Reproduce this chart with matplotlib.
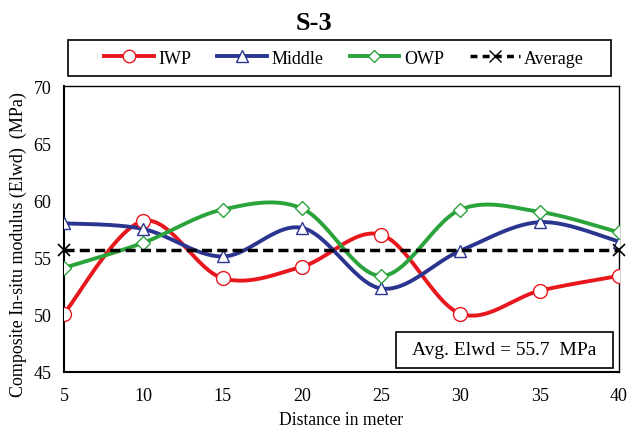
import numpy as np
import matplotlib
matplotlib.use("Agg")
import matplotlib.pyplot as plt
from matplotlib.lines import Line2D
from matplotlib.patches import Rectangle

plt.rcParams['font.family'] = ['Liberation Serif', 'DejaVu Serif']

distance = [5, 10, 15, 20, 25, 30, 35, 40]
iwp = [50.1, 58.2, 53.2, 54.2, 57.0, 50.1, 52.1, 53.4]
middle = [58.0, 57.5, 55.1, 57.6, 52.3, 55.6, 58.1, 56.4]
owp = [54.1, 56.3, 59.2, 59.3, 53.4, 59.2, 59.0, 57.2]
avg_x = [5, 40]
avg_y = [55.7, 55.7]
avg_text = "Avg. Elwd = 55.7  MPa"

RED = '#e8161d'
BLUE = '#2b3590'
GREEN = '#2ba33b'

W, H = 627, 431


def smooth(x, y, n=30):
    # Excel-style smoothed line (Catmull-Rom Bezier) through the data points
    x = np.asarray(x, float)
    y = np.asarray(y, float)
    px = np.concatenate([[x[0]], x, [x[-1]]])
    py = np.concatenate([[y[0]], y, [y[-1]]])
    xs, ys = [], []
    t = np.linspace(0, 1, n)
    for i in range(1, len(px) - 2):
        p0 = np.array([px[i - 1], py[i - 1]])
        p1 = np.array([px[i], py[i]])
        p2 = np.array([px[i + 1], py[i + 1]])
        p3 = np.array([px[i + 2], py[i + 2]])
        c1 = p1 + (p2 - p0) / 6
        c2 = p2 - (p3 - p1) / 6
        b = ((1 - t) ** 3)[:, None] * p1 + (3 * (1 - t) ** 2 * t)[:, None] * c1 \
            + (3 * (1 - t) * t ** 2)[:, None] * c2 + (t ** 3)[:, None] * p2
        xs.extend(b[:, 0]); ys.extend(b[:, 1])
    return xs, ys


fig = plt.figure(figsize=(W / 100, H / 100), dpi=100)
ax = fig.add_axes([64 / W, 1 - 373 / H, (619 - 64) / W, (373 - 87) / H])

lw = 2.8
for ys, c, m in [(iwp, RED, 'o'), (middle, BLUE, '^'), (owp, GREEN, 'D')]:
    sx, sy = smooth(distance, ys)
    ax.plot(sx, sy, color=c, lw=lw, zorder=3, solid_capstyle='round')
    ms = 10 if m == 'o' else (9 if m == '^' else 7.5)
    ax.plot(distance, ys, ls='none', marker=m, ms=ms, mfc='white', mec=c,
            mew=1.0, zorder=4)

ax.plot(avg_x, avg_y, color='black', lw=2.5, ls=(0, (2.9, 1.5)), marker='x',
        ms=8, mew=1.2, zorder=5, clip_on=False)

ax.set_xlim(5, 40)
ax.set_ylim(45, 70)
ax.set_xticks(distance)
ax.set_yticks([45, 50, 55, 60, 65, 70])
ax.tick_params(axis='both', which='both', length=0, labelsize=13)
ax.tick_params(axis='x', pad=10.5)
ax.tick_params(axis='y', pad=9)
for s in ax.spines.values():
    s.set_linewidth(1.0)
ax.spines['left'].set_linewidth(1.5)
ax.spines['bottom'].set_linewidth(1.5)

ax.set_xlabel('Distance in meter', fontsize=12.7, labelpad=5)
ax.set_ylabel('Composite In-situ modulus (Elwd)  (MPa)', fontsize=13)
ax.yaxis.set_label_coords((27 - 64) / 555, 0.448)

fig.text(0.5, 1 - 23 / H, 'S-3', ha='center', va='center', fontsize=19,
         fontweight='bold')

# annotation box with the average value
fig.patches.append(Rectangle((396 / W, 1 - 369 / H), (613 - 396) / W, 36 / H,
                             transform=fig.transFigure, fc='white',
                             ec='black', lw=1.2, zorder=6))
fig.text(504.5 / W, 1 - 351 / H, avg_text, ha='center', va='center',
         fontsize=14, zorder=7)

handles = [
    Line2D([], [], color=RED, lw=lw, marker='o', ms=9, mfc='white', mec=RED),
    Line2D([], [], color=BLUE, lw=lw, marker='^', ms=8, mfc='white', mec=BLUE),
    Line2D([], [], color=GREEN, lw=lw, marker='D', ms=6, mfc='white', mec=GREEN),
    Line2D([], [], color='black', lw=2.5, ls=(0, (2, 1.5)), marker='x', ms=8),
]
leg = fig.legend(handles, ['IWP', 'Middle', 'OWP', 'Average'], ncol=4,
                 loc='center', bbox_to_anchor=(344 / W, 1 - 59 / H),
                 fontsize=13, frameon=False,
                 handlelength=2.75, handletextpad=0.25, columnspacing=1.45,
                 borderpad=0.3)
fig.patches.append(Rectangle((68 / W, 1 - 77 / H), (611 - 68) / W, 36 / H,
                             transform=fig.transFigure, fill=False,
                             ec='black', lw=1.2))

fig.savefig('out.png', dpi=100)
